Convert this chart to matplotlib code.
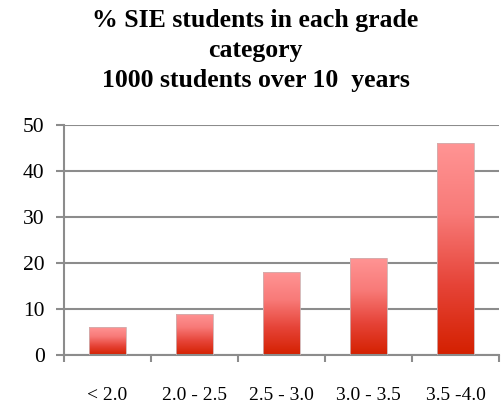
import matplotlib
matplotlib.use("Agg")
import matplotlib.pyplot as plt
import numpy as np
from matplotlib.colors import LinearSegmentedColormap

categorias = ["< 2.0", "2.0 - 2.5", "2.5 - 3.0", "3.0 - 3.5", "3.5 -4.0"]
porcentajes = [6, 9, 18, 21, 46]
titulo = "% SIE students in each grade\ncategory\n1000 students over 10  years"

plt.rcParams["font.family"] = ["Liberation Serif", "DejaVu Serif"]

fig = plt.figure(figsize=(5.01, 4.04), dpi=100)
ax = fig.add_axes([64 / 501, 49 / 404, 435 / 501, 230 / 404])

gris = "#8c8c8c"
degradado = LinearSegmentedColormap.from_list("rojo", ["#d42000", "#e64438", "#f87a78", "#ff9494"])
grad = np.linspace(0, 1, 256).reshape(-1, 1)

x = np.arange(len(categorias))
barras = ax.bar(x, porcentajes, width=0.42, color="none", edgecolor="#d0b0b0", linewidth=0.6, zorder=3)
for b in barras:
    x0, y0 = b.get_x(), b.get_y()
    w, h = b.get_width(), b.get_height()
    im = ax.imshow(grad, cmap=degradado, origin="lower", aspect="auto",
                   extent=[x0, x0 + w, y0, y0 + h], zorder=2)
    im.set_clip_path(b)

ax.set_xlim(-0.5, len(categorias) - 0.5)
ax.set_ylim(0, 50)
ax.set_yticks(range(0, 51, 10))
ax.yaxis.grid(True, color=gris, linewidth=1.5)
ax.set_axisbelow(True)

ax.set_xticks(x)
ax.set_xticklabels(categorias, fontsize=14)
ax.tick_params(axis="x", length=0, pad=23)
ax.set_xticks(np.arange(-0.5, len(categorias)), minor=True)
ax.tick_params(axis="x", which="minor", length=5, width=1.5, color=gris, direction="out")
ax.tick_params(axis="y", length=6, width=1.5, color=gris, labelsize=15.5, pad=8)

for lado in ["top", "right"]:
    ax.spines[lado].set_visible(False)
for lado in ["left", "bottom"]:
    ax.spines[lado].set_color(gris)
    ax.spines[lado].set_linewidth(1.5)

fig.text(0.51, 1 - 9 / 404, titulo, ha="center", va="top", fontsize=18.5,
         fontweight="bold", linespacing=1.38)

fig.savefig("out.png", dpi=100)
